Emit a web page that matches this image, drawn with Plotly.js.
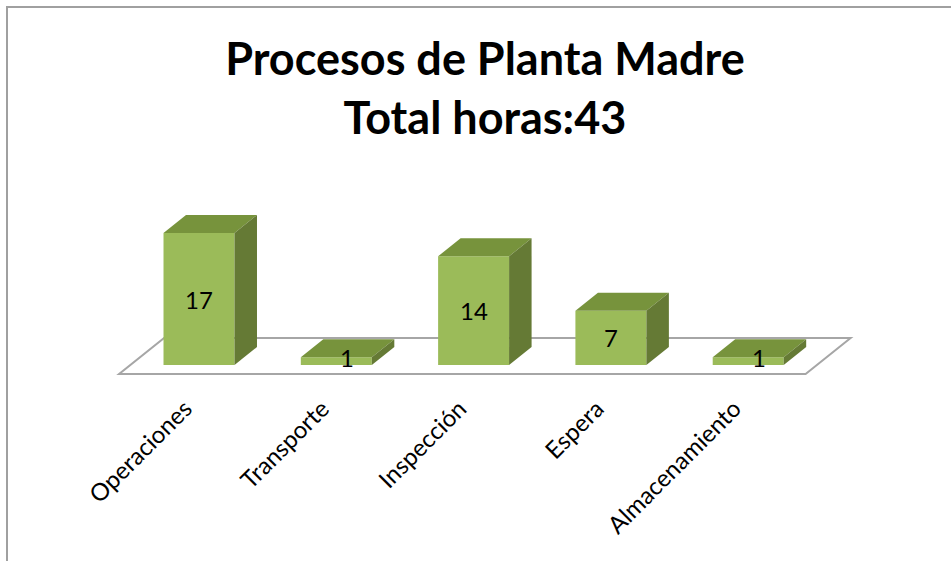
<!DOCTYPE html>
<html>
<head>
<meta charset="utf-8">
<script src="https://cdn.plot.ly/plotly-3.0.1.min.js"></script>
<style>
  html, body { margin: 0; padding: 0; background: #ffffff; }
  #wrap { position: relative; width: 951px; height: 561px; overflow: hidden; }
  #frame { position: absolute; left: 6px; top: 6px; width: 1200px; height: 1200px;
           border: 2px solid #a0a0a0; box-sizing: border-box; }
  #chart { position: absolute; left: 0; top: 0; width: 951px; height: 561px; }
</style>
</head>
<body>
<div id="wrap">
  <div id="frame"></div>
  <div id="chart"></div>
</div>
<script>
// ---- data ----
const categories = ["Operaciones", "Transporte", "Inspección", "Espera", "Almacenamiento"];
const horas = [17, 1, 14, 7, 1];
const titleLine1 = "Procesos de Planta Madre";
const titleLine2 = "Total horas:43";

// ---- pseudo-3D geometry (pixels) ----
const W = 951, H = 561;
const PX_PER_CAT = 137.3;     // px between categories
const PX_PER_UNIT = 7.765;    // px per value unit
const X0PX = 199, Y0PX = 365; // pixel of category 0, value 0 on bar front face
const DEPTH_DX = 45, DEPTH_DY = 36; // full floor depth in px
const FRONT_D = 0.25, BACK_D = 0.75;
const BAR_W = 0.517;

const M = {l: 60, r: 60, t: 150, b: 169};
const xr = [(M.l - X0PX) / PX_PER_CAT, (W - M.r - X0PX) / PX_PER_CAT];
const yr = [(Y0PX - (H - M.b)) / PX_PER_UNIT, (Y0PX - M.t) / PX_PER_UNIT];

// convert (category, value, depth) to front-face data coordinates
function P(i, v, d) {
  return [i + (d - FRONT_D) * DEPTH_DX / PX_PER_CAT,
          v + (d - FRONT_D) * DEPTH_DY / PX_PER_UNIT];
}
function poly(pts) {
  const xs = pts.map(p => p[0]), ys = pts.map(p => p[1]);
  xs.push(xs[0]); ys.push(ys[0]);
  return {x: xs, y: ys};
}

const FRONT = "#9bbb59", TOP = "#77933c", SIDE = "#657a35";
const FONT = "Lato, 'Open Sans', sans-serif";
const traces = [];
const idx = categories.map((c, i) => i);

// front faces as a real bar trace
traces.push({
  type: "bar", x: idx, y: horas, width: BAR_W,
  marker: {color: FRONT, line: {width: 0}},
  hoverinfo: "skip", showlegend: false
});

// top and side faces
horas.forEach((v, i) => {
  const a = i - BAR_W / 2, b = i + BAR_W / 2;
  const top = poly([P(a, v, FRONT_D), P(b, v, FRONT_D), P(b, v, BACK_D), P(a, v, BACK_D)]);
  const side = poly([P(b, 0, FRONT_D), P(b, v, FRONT_D), P(b, v, BACK_D), P(b, 0, BACK_D)]);
  traces.push({type: "scatter", mode: "lines", x: top.x, y: top.y, fill: "toself",
    fillcolor: TOP, line: {width: 0, color: TOP}, hoverinfo: "skip", showlegend: false});
  traces.push({type: "scatter", mode: "lines", x: side.x, y: side.y, fill: "toself",
    fillcolor: SIDE, line: {width: 0, color: SIDE}, hoverinfo: "skip", showlegend: false});
});

// floor outline
const n = categories.length;
const fl = [P(-0.5, 0, 0), P(n - 0.5, 0, 0), P(n - 0.5, 0, 1), P(-0.5, 0, 1)];
const floorPath = "M" + fl.map(p => p[0] + "," + p[1]).join(" L") + " Z";

// value labels
const annotations = horas.map((v, i) => {
  const small = v * PX_PER_UNIT < 24;
  return {
    x: i, y: v / 2, xref: "x", yref: "y", text: String(v), showarrow: false,
    font: {family: FONT, size: 24, color: "#000"},
    xshift: small ? 11 : 0, yshift: small ? 4 : 0
  };
});

const layout = {
  width: W, height: H,
  margin: M,
  paper_bgcolor: "rgba(0,0,0,0)",
  plot_bgcolor: "rgba(0,0,0,0)",
  showlegend: false,
  title: {
    text: titleLine1 + "<br>" + titleLine2,
    font: {family: FONT, size: 45, color: "#000", weight: "bold"},
    x: 485 / W, xref: "container", xanchor: "center",
    y: 1 - 75 / H, yref: "container", yanchor: "top"
  },
  xaxis: {
    range: xr, tickvals: idx, ticktext: categories, tickangle: -45,
    showgrid: false, zeroline: false, showline: false, ticks: "",
    tickfont: {family: FONT, size: 24, color: "#000"},
    ticklabelshift: -14, ticklabelstandoff: -3,
    fixedrange: true
  },
  yaxis: {range: yr, visible: false, fixedrange: true},
  shapes: [{
    type: "path", xref: "x", yref: "y", path: floorPath, layer: "below",
    line: {color: "#a6a6a6", width: 2}, fillcolor: "rgba(0,0,0,0)"
  }],
  annotations: annotations
};

Plotly.newPlot("chart", traces, layout, {displayModeBar: false, staticPlot: true});
</script>
</body>
</html>
